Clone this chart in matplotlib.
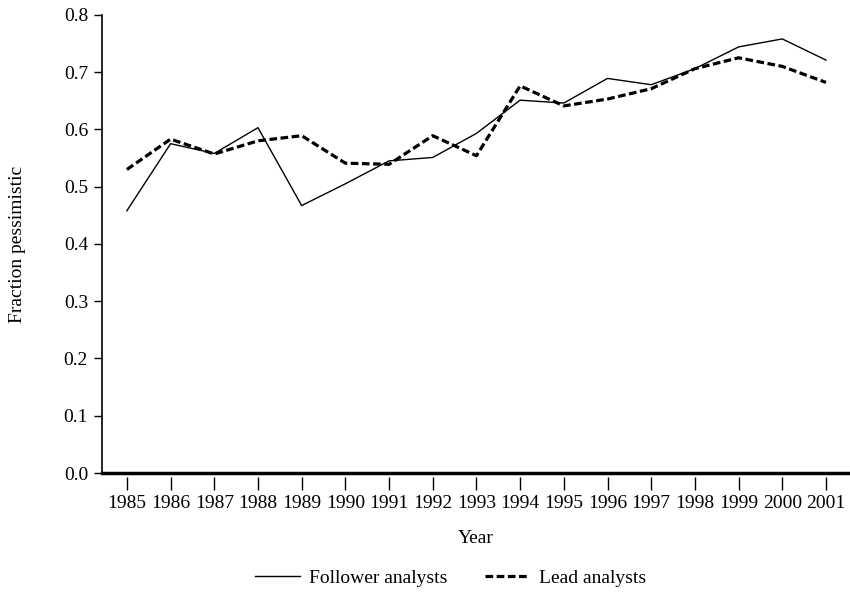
import matplotlib.pyplot as plt

# Data
years = list(range(1985, 2002))
follower = [0.458, 0.575, 0.558, 0.603, 0.467, 0.505, 0.545, 0.551, 0.593,
            0.651, 0.646, 0.689, 0.678, 0.706, 0.744, 0.758, 0.721]
lead = [0.530, 0.583, 0.557, 0.580, 0.589, 0.541, 0.539, 0.589, 0.554,
        0.676, 0.641, 0.653, 0.671, 0.706, 0.725, 0.710, 0.682]
yticks = [0.0, 0.1, 0.2, 0.3, 0.4, 0.5, 0.6, 0.7, 0.8]

plt.rcParams['font.family'] = ['Liberation Serif', 'DejaVu Serif']

fig = plt.figure(figsize=(8.5, 5.94), dpi=100)
ax = fig.add_axes([0.12, 0.2037, 0.88, 0.7713])

ax.plot(years, follower, color='black', linewidth=1.0, label='Follower analysts')
ax.plot(years, lead, color='black', linewidth=2.3, dashes=(2.4, 1.1),
        label='Lead analysts')

ax.set_xlim(1984.43, 2001.55)
ax.set_ylim(0, 0.8)
ax.set_xticks(years)
ax.set_xticklabels([str(y) for y in years])
ax.set_yticks(yticks)
ax.set_yticklabels(['%.1f' % v for v in yticks])

# thick zero line, ticks hang slightly below it
ax.axhline(0, color='black', linewidth=2.5, clip_on=False)
ax.spines['top'].set_visible(False)
ax.spines['right'].set_visible(False)
ax.spines['bottom'].set_position(('outward', 3))
ax.spines['bottom'].set_visible(False)
ax.spines['left'].set_linewidth(1.2)

ax.tick_params(axis='x', direction='out', length=9, width=1.0, pad=4, labelsize=14)
ax.tick_params(axis='y', direction='out', length=6, width=1.0, pad=4, labelsize=14)

ax.set_xlabel('Year', fontsize=14, labelpad=13)
ax.set_ylabel('Fraction pessimistic', fontsize=14, labelpad=27)

fig.legend(loc='center', bbox_to_anchor=(0.53, 0.027), ncol=2, frameon=False,
           fontsize=14, handlelength=2.3, columnspacing=1.9, handletextpad=0.5)

fig.savefig('out.png', dpi=100)
